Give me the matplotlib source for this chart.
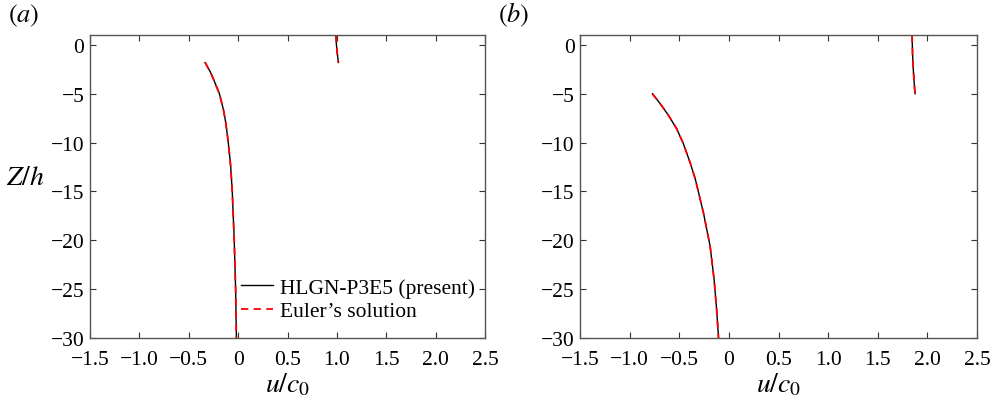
import matplotlib
matplotlib.use("Agg")
import matplotlib.pyplot as plt

plt.rcParams['font.family'] = ['Liberation Serif', 'DejaVu Serif']
plt.rcParams['mathtext.fontset'] = 'stix'
plt.rcParams['axes.unicode_minus'] = True

# Panel (a): profiles below trough and crest
a_trough_z = [-1.8, -2.8, -3.9, -5, -6.6, -8, -10, -12.4, -15, -20, -25, -30]
a_trough_u = [-0.335, -0.28, -0.234, -0.19, -0.15, -0.125, -0.10, -0.076, -0.06, -0.04, -0.026, -0.018]
a_crest_z = [1.0, 0.0, -1.0, -1.8]
a_crest_u = [0.99, 0.995, 1.005, 1.015]

# Panel (b)
b_trough_z = [-5, -6, -7.2, -8.6, -10.1, -12, -13.7, -17.2, -20.6, -24, -27, -30]
b_trough_u = [-0.771, -0.694, -0.61, -0.526, -0.46, -0.393, -0.34, -0.257, -0.19, -0.15, -0.125, -0.105]
b_crest_z = [1.0, -1.0, -2.5, -4.0, -5.0]
b_crest_u = [1.845, 1.85, 1.857, 1.867, 1.875]

fig = plt.figure(figsize=(9.95, 4.02), dpi=100)
ax1 = fig.add_axes([0.0905, 0.157, 0.397, 0.753])
ax2 = fig.add_axes([0.583, 0.157, 0.399, 0.753])

panels = [
    (ax1, a_trough_u, a_trough_z, a_crest_u, a_crest_z, 'a'),
    (ax2, b_trough_u, b_trough_z, b_crest_u, b_crest_z, 'b'),
]

for ax, tu, tz, cu, cz, lab in panels:
    ax.plot(tu, tz, color='black', lw=1.0, label='HLGN-P3E5 (present)')
    ax.plot(cu, cz, color='black', lw=1.0)
    ax.plot(tu, tz, color='red', lw=1.3, ls=(0, (4, 3)), label='Euler\u2019s solution')
    ax.plot(cu, cz, color='red', lw=1.3, ls=(0, (4, 3)))
    ax.set_xlim(-1.5, 2.5)
    ax.set_ylim(-30, 1)
    ax.set_xticks([-1.5, -1.0, -0.5, 0, 0.5, 1.0, 1.5, 2.0, 2.5])
    ax.set_xticklabels(['\u22121.5', '\u22121.0', '\u22120.5', '0', '0.5', '1.0', '1.5', '2.0', '2.5'])
    ax.set_yticks([0, -5, -10, -15, -20, -25, -30])
    ax.tick_params(direction='in', top=True, right=True, length=4, width=0.8,
                   labelsize=15.5, color='#333333', pad=4)
    ax.tick_params(axis='x', pad=9)
    for s in ax.spines.values():
        s.set_color('#555555')
        s.set_linewidth(1.0)
    ax.set_xlabel(r'$u/c_0$', fontsize=20, labelpad=1)
    ax.text(-0.207, 1.025, r'$(\mathit{' + lab + r'})$', transform=ax.transAxes,
            fontsize=19, ha='left', va='bottom')

ax1.set_ylabel(r'$Z/h$', fontsize=20, rotation=0, va='center')
ax1.yaxis.set_label_coords(-0.165, 0.53)

ax1.legend(loc='lower right', bbox_to_anchor=(1.012, 0.005), frameon=False,
           fontsize=15.5, handlelength=1.5, handletextpad=0.3, borderpad=0.2,
           labelspacing=0.15)

fig.savefig('out.png', dpi=100)
